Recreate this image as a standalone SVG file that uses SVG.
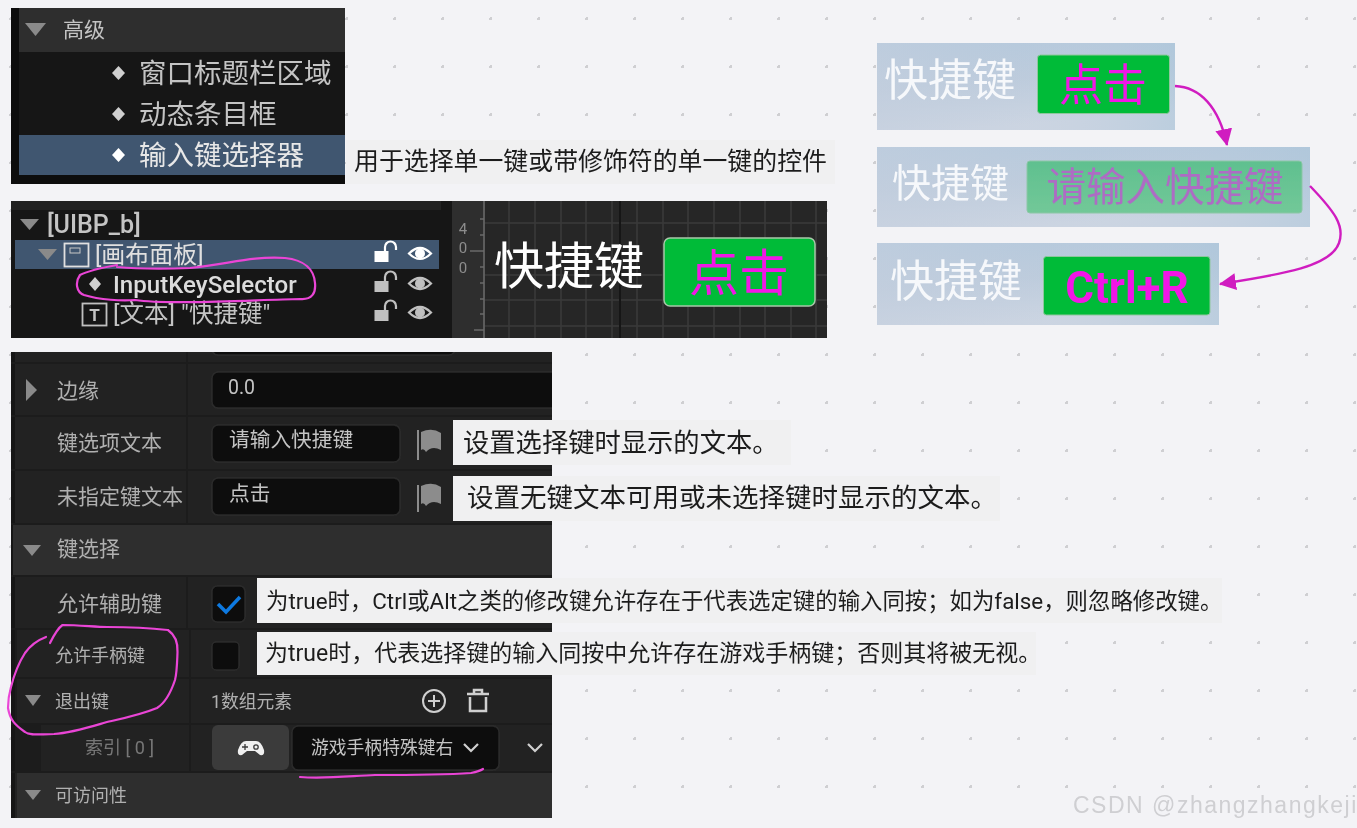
<svg xmlns="http://www.w3.org/2000/svg" width="1357" height="828" viewBox="0 0 1357 828">
<defs>
<pattern id="dots" x="10" y="18" width="48" height="48" patternUnits="userSpaceOnUse"><rect x="47" y="-1" width="2" height="3" fill="#cfcfd2"/><rect x="0" y="47" width="2" height="2" fill="#cfcfd2"/><rect x="0" y="0" width="2" height="2" fill="#cfcfd2"/></pattern>
<linearGradient id="sky" x1="0" y1="0" x2="0.25" y2="1"><stop offset="0" stop-color="#b3c8dc"/><stop offset=".5" stop-color="#bccbdc"/><stop offset="1" stop-color="#ccd5e2"/></linearGradient>
<linearGradient id="skyh" x1="0" y1="0" x2="1" y2="0"><stop offset="0" stop-color="#c6d0df" stop-opacity=".55"/><stop offset=".5" stop-color="#c6d0df" stop-opacity=".1"/><stop offset="1" stop-color="#a8c5da" stop-opacity=".45"/></linearGradient>
<linearGradient id="wait" x1="0" y1="0" x2="0" y2="1"><stop offset="0" stop-color="#5fc08f"/><stop offset="1" stop-color="#72c898"/></linearGradient>
<filter id="soft" filterUnits="userSpaceOnUse" x="0" y="0" width="1357" height="828"><feGaussianBlur stdDeviation="0.5"/></filter>
<clipPath id="detailsClip"><rect x="11" y="352" width="541" height="466"/></clipPath>
<marker id="arr" viewBox="0 0 16 16" refX="15" refY="8" markerUnits="userSpaceOnUse" markerWidth="17" markerHeight="17" orient="auto"><path d="M0 0L16 8L0 16Z" fill="#d01fc0"/></marker>
</defs>
<style>
text{font-family:Roboto,"Noto Sans CJK SC",sans-serif}
.lt{fill:#c4c4c4}.ld{fill:#b0b0b0}.w{fill:#fff}.cap{fill:#1c1c1c}.capbg{fill:#f0f0f1}
.row{fill:#242424}.hdr{fill:#2f2f2f}.fld{fill:#0f0f0f;stroke:#2c2c2c;stroke-width:1.5}.sep{stroke:#1a1a1a;stroke-width:2}
.ink{fill:none;stroke:#ea45d6;stroke-width:2.200;stroke-linecap:round;stroke-linejoin:round}
.tri{fill:#8a8a8a}.flag{fill:#8c8c8c}.icon{fill:#d0d0d0}.gbtn{fill:#00bb38}.gline{stroke:#3b3b3b;stroke-width:1.5}
.arrow{fill:none;stroke:#d01fc0;stroke-width:2.4}
.sky{fill:url(#sky)}.skyh{fill:url(#skyh)}
.lock-b{fill:#c0c0c0}.lock-s{fill:none;stroke:#c0c0c0;stroke-width:2.200}.eye{fill:none;stroke:#c0c0c0;stroke-width:2.200}.pupil{fill:#c0c0c0}
.on .lock-b,.on .pupil{fill:#fff}.on .lock-s,.on .eye{stroke:#fff}
</style>
<rect width="1357" height="828" fill="#f3f3f6"/>
<rect width="1357" height="828" fill="url(#dots)"/>
<g filter="url(#soft)">

<g id="panel-advanced">
<rect x="11" y="8" width="334" height="176" fill="#0f0f0f"/>
<rect x="19" y="8" width="326" height="44" fill="#2f2f2f"/>
<rect x="19" y="52" width="326" height="83" fill="#181818"/>
<rect x="19" y="135" width="326" height="40" fill="#41566f"/>
<path class="tri" d="M25 23H46L35.500 36Z"/>
<text x="63" y="37" font-size="21" class="lt">高级</text>
<path class="icon" d="M118.500 66L125 73L118.500 80L112 73Z"/>
<text x="139" y="83" font-size="27.500" class="lt">窗口标题栏区域</text>
<path class="icon" d="M118.500 107L125 114L118.500 121L112 114Z"/>
<text x="139" y="124" font-size="27.500" class="lt">动态条目框</text>
<path class="w" d="M118.500 148L125 155L118.500 162L112 155Z"/>
<text x="139" y="165" font-size="27.500" fill="#e8e8e8">输入键选择器</text>
</g>
<g id="caption-selector">
<rect class="capbg" x="346" y="140" width="489" height="44"/>
<text x="354" y="170" font-size="24.900" class="cap">用于选择单一键或带修饰符的单一键的控件</text>
</g>

<g id="panel-hierarchy">
<rect x="11" y="201" width="430" height="137" fill="#181818"/>
<rect x="11" y="201" width="430" height="9" fill="#232323"/>
<rect x="15" y="240" width="424" height="29" fill="#41566f"/>
<path class="tri" d="M20 219H39L29.500 230Z"/>
<text x="47" y="233" font-size="25" font-weight="500" class="lt">[UIBP_b]</text>
<path class="tri" d="M38 249H57L47.500 260Z"/>
<rect x="64.500" y="243.500" width="24" height="23" fill="none" stroke="#e0e0e0" stroke-width="1.800"/>
<rect x="70" y="248" width="10" height="5" fill="none" stroke="#c8c8c8" stroke-width="1"/>
<text x="95" y="263" font-size="24" fill="#e0e0e0">[画布面板]</text>
<path class="icon" d="M95 277L101 284L95 291L89 284Z"/>
<text x="113" y="293" font-size="24.100" font-weight="500" fill="#dcdcdc">InputKeySelector</text>
<rect x="82.500" y="303.500" width="24" height="22" fill="none" stroke="#c0c0c0" stroke-width="1.800"/>
<text x="94.500" y="321" font-size="17" font-weight="700" text-anchor="middle" class="lt">T</text>
<text x="113" y="322" font-size="24.500" class="lt">[文本] "快捷键"</text>
<g class="on"><rect class="lock-b" x="374.500" y="251" width="14" height="11"/><path class="lock-s" d="M385 251V247a5 5 0 0 1 11 0v3"/><path class="eye" d="M409 253.500Q420 242.500 431 253.500Q420 264.500 409 253.500Z"/><circle class="pupil" cx="420" cy="253.500" r="5"/></g>
<g><rect class="lock-b" x="374.500" y="281" width="14" height="11"/><path class="lock-s" d="M385 281V277a5 5 0 0 1 11 0v3"/><path class="eye" d="M409 283.500Q420 272.500 431 283.500Q420 294.500 409 283.500Z"/><circle class="pupil" cx="420" cy="283.500" r="5"/></g>
<g><rect class="lock-b" x="374.500" y="310" width="14" height="11"/><path class="lock-s" d="M385 310V306a5 5 0 0 1 11 0v3"/><path class="eye" d="M409 312.500Q420 301.500 431 312.500Q420 323.500 409 312.500Z"/><circle class="pupil" cx="420" cy="312.500" r="5"/></g>
</g>

<g id="panel-preview">
<rect x="441" y="201" width="386" height="137" fill="#282828"/>
<rect x="441" y="201" width="11" height="137" fill="#151515"/>
<rect x="452" y="201" width="32" height="137" fill="#2f2f2f"/>
<path class="gline" d="M484 201V338M509 201V338M535 201V338M561 201V338M586 201V338M612 201V338M637 201V338M663 201V338M688 201V338M714 201V338M740 201V338M765 201V338M791 201V338M816 201V338M484 223H827M484 275H827M484 300H827M484 326H827"/>
<path d="M620 201V338" stroke="#151515" stroke-width="2"/>
<path stroke="#6a6a6a" stroke-width="1.500" d="M484 201V338M470 251H484M480 219H484M480 235H484M480 267H484M480 283H484M480 299H484M480 314H484M474 330H484"/>
<text x="463" y="234" font-size="15" text-anchor="middle" fill="#8c8c8c">4</text>
<text x="463" y="253" font-size="15" text-anchor="middle" fill="#8c8c8c">0</text>
<text x="463" y="273" font-size="15" text-anchor="middle" fill="#8c8c8c">0</text>
<text x="494" y="284" font-size="50" class="w">快捷键</text>
<rect class="gbtn" x="664" y="238" width="151" height="68" rx="6" stroke="#a6c7a8" stroke-width="1.500"/>
<text x="739" y="291" font-size="50" text-anchor="middle" fill="#f118e6">点击</text>
</g>

<g id="example-default">
<rect class="sky" x="877" y="43" width="298" height="87"/><rect class="skyh" x="877" y="43" width="298" height="87"/>
<text x="884" y="96" font-size="44" fill="#f6f8fb">快捷键</text>
<rect class="gbtn" x="1037.500" y="55" width="132" height="58.500" rx="3" stroke="#8fc79d" stroke-width="1"/>
<text x="1103" y="101" font-size="44" text-anchor="middle" fill="#f118e6">点击</text>
</g>
<g id="example-waiting">
<rect class="sky" x="877" y="147" width="433" height="80"/><rect class="skyh" x="877" y="147" width="433" height="80"/>
<text x="892" y="197" font-size="39" fill="#f6f8fb">快捷键</text>
<rect x="1027" y="161" width="275" height="52" rx="3" fill="url(#wait)" stroke="#8cc7a6" stroke-width="1"/>
<text x="1165" y="201" font-size="39.500" text-anchor="middle" fill="#ad6cc4">请输入快捷键</text>
</g>
<g id="example-result">
<rect class="sky" x="877" y="243" width="342" height="82"/><rect class="skyh" x="877" y="243" width="342" height="82"/>
<text x="890" y="297" font-size="44" fill="#f6f8fb">快捷键</text>
<rect class="gbtn" x="1043.500" y="256.500" width="166.500" height="58.500" rx="3" stroke="#8fc79d" stroke-width="1"/>
<text x="1127" y="303" font-size="44" font-weight="700" text-anchor="middle" fill="#f118e6">Ctrl+R</text>
</g>

<g id="panel-details">
<rect x="11" y="352" width="541" height="466" fill="#242424"/>
<rect x="11" y="352" width="4" height="466" fill="#141414"/>
<g clip-path="url(#detailsClip)">
<rect class="fld" x="212" y="340" width="243" height="15" rx="6"/>
<path class="sep" d="M11 363H552M11 416H552M11 470H552M11 524H552M11 576H552M11 629H552M11 678H552M11 724H552M11 772H552"/>
<path stroke="#1b1b1b" stroke-width="2" d="M187 352V524M187 576V629M190 629V772"/>
<rect class="hdr" x="13" y="525" width="539" height="50"/>
<rect class="hdr" x="17" y="773" width="535" height="45"/>
<rect x="15" y="629" width="2" height="143" fill="#1a1a1a"/>
<rect x="17" y="724" width="24" height="48" fill="#1f1f1f"/>
<path class="tri" d="M26 379L37 390L26 401Z"/>
<text x="57" y="398" font-size="21" class="ld">边缘</text>
<rect class="fld" x="212" y="372" width="352" height="36" rx="6"/>
<text x="228" y="394" font-size="19.500" class="lt">0.0</text>
<text x="57" y="450" font-size="21" class="ld">键选项文本</text>
<rect class="fld" x="212" y="425" width="188" height="37" rx="6"/>
<text x="229" y="447" font-size="20.700" class="lt">请输入快捷键</text>
<path class="flag" d="M417 430H419V460H417ZM421 432Q432 427 441 433V450Q432 445 426 452Q424 448 421 450Z"/>
<text x="57" y="504" font-size="21" class="ld">未指定键文本</text>
<rect class="fld" x="212" y="478" width="188" height="37" rx="6"/>
<text x="229" y="501" font-size="20.700" class="lt">点击</text>
<path class="flag" d="M417 485H419V512H417ZM421 486Q432 481 441 487V504Q432 499 426 506Q424 502 421 504Z"/>
<path class="tri" d="M23 545H41L32 556Z"/>
<text x="57" y="556" font-size="21" class="ld">键选择</text>
<text x="57" y="611" font-size="21" class="ld">允许辅助键</text>
<rect class="fld" x="212" y="586" width="33" height="36" rx="5"/>
<path d="M218 604L226 612L240 597" fill="none" stroke="#0c79e0" stroke-width="3.500"/>
<text x="55" y="662" font-size="18" class="ld">允许手柄键</text>
<rect class="fld" x="212" y="642" width="27" height="28" rx="4"/>
<path class="tri" d="M25 695H41L33 706Z"/>
<text x="55" y="708" font-size="18" class="ld">退出键</text>
<text x="211" y="708" font-size="17.800" class="ld">1数组元素</text>
<circle cx="434" cy="701" r="11" fill="none" stroke="#cfcfcf" stroke-width="2"/>
<path d="M428 701H440M434 695V707" stroke="#cfcfcf" stroke-width="2"/>
<path d="M467 694H489M474 694V690H482V694M470 697V711H486V697" fill="none" stroke="#cfcfcf" stroke-width="2.500"/>
<text x="85" y="754" font-size="18" fill="#777">索引 [ 0 ]</text>
<rect x="212" y="725" width="77" height="45" rx="6" fill="#3a3a3a"/>
<path fill="#f0f0f0" d="M238 750Q241 741 246 741H256Q261 741 264 750Q265 756 260 755L255 751H247L242 755Q237 756 238 750Z"/>
<path d="M242 747H248M245 744V750" stroke="#3a3a3a" stroke-width="1.300"/><circle cx="256" cy="747" r="2.200" fill="none" stroke="#3a3a3a" stroke-width="1.300"/>
<rect class="fld" x="292" y="726" width="207" height="44" rx="6"/>
<text x="311" y="754" font-size="17.800" class="lt">游戏手柄特殊键右</text>
<path d="M464 744L471 751L478 744M528 744L535 751L542 744" fill="none" stroke="#d0d0d0" stroke-width="2.200"/>
<path class="tri" d="M25 790H41L33 800Z"/>
<text x="55" y="802" font-size="18" class="ld">可访问性</text>
</g>
</g>

<g id="caption-option">
<rect class="capbg" x="453" y="420" width="338" height="45"/>
<text x="463" y="452" font-size="26.300" class="cap">设置选择键时显示的文本。</text>
</g>
<g id="caption-unassigned">
<rect class="capbg" x="453" y="476" width="547" height="45"/>
<text x="467" y="507" font-size="26.500" class="cap">设置无键文本可用或未选择键时显示的文本。</text>
</g>
<g id="caption-modifier">
<rect class="capbg" x="257" y="578" width="965" height="45"/>
<text x="266" y="609" font-size="22.400" class="cap">为true时，Ctrl或Alt之类的修改键允许存在于代表选定键的输入同按；如为false，则忽略修改键。</text>
</g>
<g id="caption-gamepad">
<rect class="capbg" x="257" y="632" width="779" height="43"/>
<text x="265" y="661" font-size="23" class="cap">为true时，代表选择键的输入同按中允许存在游戏手柄键；否则其将被无视。</text>
</g>

<g id="connectors">
<path class="arrow" marker-end="url(#arr)" d="M1175 86C1200 87 1219 107 1227 145"/>
<path class="arrow" marker-end="url(#arr)" d="M1310 186C1335 212 1345 226 1339 243C1331 266 1285 274 1220 284"/>
</g>

<g id="annotations">
<path class="ink" d="M117 265C100 268 90 270 80 275C75 282 76 292 84 295C100 300 122 301 135 300C170 305 250 300 300 299C312 300 316 293 315 283C314 270 305 260 285 258C250 256 230 264 190 268C160 269 140 269 117 267"/>
<path class="ink" d="M50 643C54 635 58 628 62.500 625C80 625 95 627 107 627C130 627 150 628 168 630C175 635 178 642 177.500 652C177 665 177 672 175 680C170 695 165 703 157 708C140 715 125 718 107 722C90 727 72 733 54 734C40 734 30 736 25 732C15 725 10 720 8 708C8 700 9 694 11 687C14 675 18 664 25 653C30 646 38 640 46 637"/>
<path class="ink" d="M300 777C325 779 350 776 375 775C410 775 440 775 471 773C476 772 480 771 483 769"/>
</g>

<g id="watermark">
<text x="1073" y="813" font-size="23" letter-spacing="1.500" fill="#cfcfd2" style="font-family:'Liberation Sans',sans-serif">CSDN @zhangzhangkeji</text>
</g>
</g>
</svg>
